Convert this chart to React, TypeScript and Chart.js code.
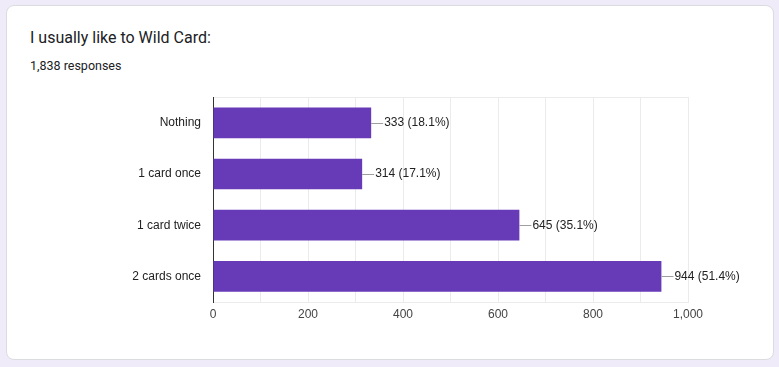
import React, { useEffect, useRef } from "react";
import { Chart, registerables } from "chart.js";

Chart.register(...registerables);

const categories = ["Nothing", "1 card once", "1 card twice", "2 cards once"];
const counts = [333, 314, 645, 944];
const percents = ["18.1%", "17.1%", "35.1%", "51.4%"];
const xTicks = [0, 200, 400, 600, 800, 1000];
const titleText = "I usually like to Wild Card:";
const subtitleText = "1,838 responses";

const labelPlugin = {
  id: "barLabels",
  afterDatasetsDraw(chart: any) {
    const ctx = chart.ctx;
    const meta = chart.getDatasetMeta(0);
    ctx.save();
    meta.data.forEach((bar: any, i: number) => {
      const x = bar.x;
      const y = bar.y;
      ctx.strokeStyle = "#9e9e9e";
      ctx.lineWidth = 1;
      ctx.beginPath();
      ctx.moveTo(x, Math.round(y) + 0.5);
      ctx.lineTo(x + 12, Math.round(y) + 0.5);
      ctx.stroke();
      ctx.fillStyle = "#222222";
      ctx.font = "12px 'Liberation Sans', Arial, sans-serif";
      ctx.textBaseline = "middle";
      ctx.textAlign = "left";
      ctx.fillText(`${counts[i].toLocaleString("en-US")} (${percents[i]})`, x + 13, y);
    });
    ctx.restore();
  },
};

export default function App() {
  const ref = useRef<HTMLCanvasElement>(null);
  useEffect(() => {
    document.body.style.margin = "0";
    const chart = new Chart(ref.current!, {
      type: "bar",
      data: {
        labels: categories,
        datasets: [
          {
            data: counts,
            backgroundColor: "#673ab7",
            categoryPercentage: 1,
            barPercentage: 0.6,
          },
        ],
      },
      plugins: [labelPlugin],
      options: {
        indexAxis: "y",
        animation: false,
        responsive: false,
        maintainAspectRatio: false,
        layout: { padding: { top: 7, right: 91, bottom: 0, left: 0 } },
        plugins: { legend: { display: false }, tooltip: { enabled: false } },
        scales: {
          x: {
            min: 0,
            max: 1000,
            afterFit(scale: any) {
              scale.height = 28;
            },
            afterBuildTicks(scale: any) {
              const t = [];
              for (let v = 0; v <= 1000; v += 100) t.push({ value: v });
              scale.ticks = t;
            },
            ticks: {
              autoSkip: false,
              maxRotation: 0,
              padding: 5,
              color: "#444444",
              font: { family: "'Liberation Sans', Arial, sans-serif", size: 12 },
              callback(v: any) {
                return xTicks.includes(Number(v)) ? Number(v).toLocaleString("en-US") : "";
              },
            },
            grid: { color: "#ebebeb", drawTicks: false },
            border: { color: "#ebebeb" },
          },
          y: {
            afterFit(scale: any) {
              scale.width = 213;
            },
            ticks: {
              padding: 12,
              color: "#222222",
              font: { family: "'Liberation Sans', Arial, sans-serif", size: 12 },
            },
            grid: {
              offset: true,
              drawTicks: false,
              color: (c: any) => (c.index === 0 || c.index === categories.length ? "#ebebeb" : "rgba(0,0,0,0)"),
            },
            border: { color: "#333333", width: 1 },
          },
        },
      },
    });
    return () => chart.destroy();
  }, []);

  return (
    <div style={{ position: "fixed", left: 0, top: 0, width: 779, height: 367, background: "#f0ebf8" }}>
      <div
        style={{
          position: "absolute",
          left: 6,
          top: 5,
          width: 766,
          height: 353,
          background: "#ffffff",
          border: "1px solid #dadce0",
          borderRadius: 8,
        }}
      />
      <div
        style={{
          position: "absolute",
          left: 30,
          top: 28,
          fontFamily: "Roboto, 'Open Sans', sans-serif",
          fontSize: 16,
          color: "#202124",
          whiteSpace: "nowrap",
          lineHeight: "20px",
        }}
      >
        {titleText}
      </div>
      <div
        style={{
          position: "absolute",
          left: 30,
          top: 58,
          fontFamily: "Roboto, 'Open Sans', sans-serif",
          fontSize: 12.5,
          color: "#202124",
          whiteSpace: "nowrap",
          lineHeight: "16px",
        }}
      >
        {subtitleText}
      </div>
      <canvas
        ref={ref}
        width={779}
        height={252}
        style={{ position: "absolute", left: 0, top: 78, width: 779, height: 252 }}
      />
    </div>
  );
}
